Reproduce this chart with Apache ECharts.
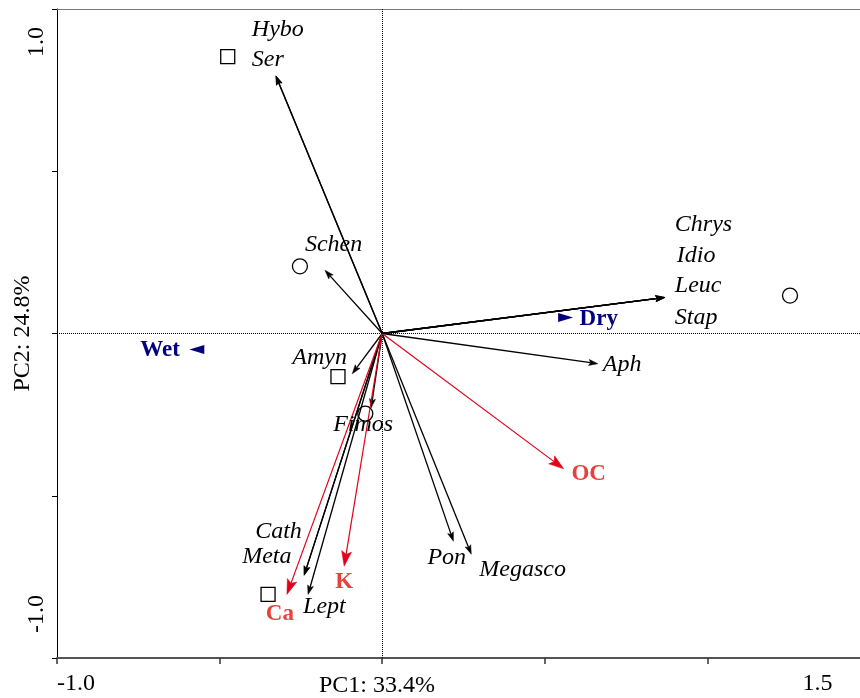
<!DOCTYPE html>
<html><head><meta charset="utf-8">
<script src="https://cdn.jsdelivr.net/npm/echarts@6/dist/echarts.min.js"></script>
<style>html,body{margin:0;padding:0;background:#fff}#c{width:860px;height:698px}</style>
</head><body><div id="c"></div>
<script>
// ---- data (PC1, PC2 scores) ----
const speciesNames = ['Hybo','Ser','Schen','Chrys','Idio','Leuc','Stap','Aph','Amyn','Fimos','Pon','Megasco','Cath','Meta','Lept'];
const speciesPC1 = [-0.327,-0.327,-0.176,0.869,0.869,0.869,0.869,0.663,-0.092,-0.034,0.219,0.274,-0.240,-0.240,-0.228];
const speciesPC2 = [0.794,0.794,0.195,0.111,0.111,0.111,0.111,-0.093,-0.124,-0.229,-0.640,-0.680,-0.745,-0.745,-0.804];
const envNames = ['OC','K','Ca'];
const envPC1 = [0.558,-0.117,-0.293];
const envPC2 = [-0.417,-0.717,-0.804];
const nominalNames = ['Dry','Wet'];
const nominalPC1 = [0.564,-0.570];
const nominalPC2 = [0.049,-0.049];
const squarePC1 = [-0.475,-0.136,-0.351];
const squarePC2 = [0.853,-0.133,-0.804];
const circlePC1 = [-0.253,-0.052,1.254];
const circlePC2 = [0.207,-0.247,0.117];
const xTickValues = [-1.0, 1.5];
const xTickLabels = ['-1.0','1.5'];
const yTickValues = [-1.0, 1.0];
const yTickLabels = ['-1.0','1.0'];
const xAxisTitle = 'PC1: 33.4%';
const yAxisTitle = 'PC2: 24.8%';

// ---- layout / style (pixel offsets of labels from their point) ----
const labelOffset = {Hybo:[-24,-46], Ser:[-24,-16], Schen:[-20,-26], Chrys:[10,-73], Idio:[12,-42], Leuc:[10,-12], Stap:[10,20],
  Aph:[5,1], Amyn:[-60,-16], Fimos:[-38,17], Pon:[-26,17], Megasco:[8,16], Cath:[-49,-44], Meta:[-62,-19], Lept:[-5,12],
  OC:[25,5], K:[0,16], Ca:[-7,20], Dry:[14,1], Wet:[-17,1]};
const FONT = "'Liberation Serif','Times New Roman',serif";
const RED_LINE = '#e2001a', RED_TEXT = '#e8413c', NAVY = '#000080';

function arrowRenderer(color, width, headLen, headHalf) {
  return function (params, api) {
    const p0 = api.coord([0, 0]);
    const p1 = api.coord([api.value(0), api.value(1)]);
    const dx = p1[0] - p0[0], dy = p1[1] - p0[1];
    const L = Math.hypot(dx, dy) || 1;
    const ux = dx / L, uy = dy / L;
    const bx = p1[0] - ux * headLen, by = p1[1] - uy * headLen;
    const nx = p1[0] - ux * headLen * 0.8, ny = p1[1] - uy * headLen * 0.8;
    return {type: 'group', children: [
      {type: 'line', shape: {x1: p0[0], y1: p0[1], x2: nx, y2: ny}, style: {stroke: color, lineWidth: width}},
      {type: 'polygon', shape: {points: [[p1[0], p1[1]], [bx - uy * headHalf, by + ux * headHalf], [nx, ny], [bx + uy * headHalf, by - ux * headHalf]]},
       style: {fill: color, stroke: color, lineWidth: 0.5}}
    ]};
  };
}

function labelItems(names, xs, ys, align) {
  return names.map((n, i) => ({name: n, value: [xs[i], ys[i]],
    label: {offset: labelOffset[n], align: align}}));
}

const speciesPairs = speciesNames.map((n, i) => [speciesPC1[i], speciesPC2[i]]);
const envPairs = envNames.map((n, i) => [envPC1[i], envPC2[i]]);
const solid = {opacity: 1};

const chart = echarts.init(document.getElementById('c'), null, {renderer: 'canvas'});
chart.setOption({
  animation: false,
  backgroundColor: '#fff',
  grid: {left: 57, top: 9, bottom: 40, right: -10, containLabel: false, outerBoundsMode: 'none'},
  xAxis: [{
    type: 'value', min: -1, max: 1.5, interval: 0.5,
    name: xAxisTitle, nameLocation: 'middle', nameGap: 16, nameMoveOverlap: false,
    nameTextStyle: {fontFamily: FONT, fontSize: 24, color: '#000', padding: [0, 173, 0, 0]},
    axisLine: {show: true, onZero: false, lineStyle: {color: '#555', width: 2}},
    axisTick: {show: true, length: 6, lineStyle: {color: '#333', width: 1.5}},
    splitLine: {show: false},
    axisLabel: {
      showMinLabel: true, showMaxLabel: true, margin: 14,
      fontFamily: FONT, fontSize: 24, color: '#000',
      formatter: function (v) {
        const i = xTickValues.findIndex(t => Math.abs(t - v) < 1e-6);
        return i < 0 ? '' : '{x' + i + '|' + xTickLabels[i] + '}';
      },
      rich: {
        x0: {fontFamily: FONT, fontSize: 24, color: '#000', padding: [0, 0, 0, 38]},
        x1: {fontFamily: FONT, fontSize: 24, color: '#000', padding: [0, 105, 0, 0]}
      }
    }
  }, {
    type: 'value', min: -1, max: 1.5, position: 'top',
    axisLine: {show: true, onZero: false, lineStyle: {color: '#777', width: 1}},
    axisTick: {show: false}, axisLabel: {show: false}, splitLine: {show: false}
  }],
  yAxis: {
    type: 'value', min: -1, max: 1, interval: 0.5,
    name: yAxisTitle, nameLocation: 'middle', nameGap: 22, nameMoveOverlap: false,
    nameTextStyle: {fontFamily: FONT, fontSize: 24, color: '#000'},
    axisLine: {show: true, onZero: false, lineStyle: {color: '#000', width: 1}},
    axisTick: {show: true, length: 5, lineStyle: {color: '#000', width: 1}},
    splitLine: {show: false},
    axisLabel: {
      showMinLabel: true, showMaxLabel: true, rotate: 90, margin: 8,
      fontFamily: FONT, fontSize: 24, color: '#000',
      formatter: function (v) {
        const i = yTickValues.findIndex(t => Math.abs(t - v) < 1e-6);
        return i < 0 ? '' : '{y' + i + '|' + yTickLabels[i] + '}';
      },
      rich: {
        y0: {fontFamily: FONT, fontSize: 24, color: '#000', padding: [0, 0, 0, 88]},
        y1: {fontFamily: FONT, fontSize: 24, color: '#000', padding: [0, 66, 0, 0]}
      }
    }
  },
  series: [
    {
      type: 'custom', name: 'species arrows', xAxisIndex: 0, data: speciesPairs, z: 3,
      renderItem: arrowRenderer('#000', 1.3, 9, 3), silent: true,
      markLine: {
        silent: true, symbol: ['none', 'none'], label: {show: false},
        lineStyle: {type: [1, 1], color: '#000', width: 1},
        data: [{xAxis: 0}, {yAxis: 0}]
      }
    },
    {
      type: 'custom', name: 'environment arrows', xAxisIndex: 0, data: envPairs, z: 3,
      renderItem: arrowRenderer(RED_LINE, 1.2, 15, 5), silent: true
    },
    {
      type: 'scatter', name: 'samples (square)', symbol: 'rect', symbolSize: 14, z: 4, silent: true,
      data: squarePC1.map((x, i) => [x, squarePC2[i]]),
      itemStyle: {color: 'rgba(255,255,255,0)', borderColor: '#000', borderWidth: 1.3, opacity: 1}
    },
    {
      type: 'scatter', name: 'samples (circle)', symbol: 'circle', symbolSize: 15, z: 4, silent: true,
      data: circlePC1.map((x, i) => [x, circlePC2[i]]),
      itemStyle: {color: 'rgba(255,255,255,0)', borderColor: '#000', borderWidth: 1.3, opacity: 1}
    },
    {
      type: 'scatter', name: 'nominal', symbol: 'triangle', symbolSize: [9, 15], z: 5, silent: true,
      data: nominalNames.map((n, i) => ({name: n, value: [nominalPC1[i], nominalPC2[i]],
        symbolRotate: i === 0 ? -90 : 90,
        label: {offset: labelOffset[n], align: i === 0 ? 'left' : 'right'}})),
      itemStyle: {color: NAVY, opacity: 1},
      label: {show: true, position: 'inside', verticalAlign: 'middle', formatter: '{b}', opacity: 1,
        fontFamily: FONT, fontSize: 23, fontWeight: 'bold', color: NAVY, textBorderWidth: 0}
    },
    {
      type: 'scatter', name: 'species labels', symbolSize: 0, z: 6, clip: false, silent: true,
      itemStyle: solid,
      data: labelItems(speciesNames, speciesPC1, speciesPC2, 'left'),
      label: {show: true, position: 'inside', verticalAlign: 'middle', formatter: '{b}', opacity: 1,
        fontFamily: FONT, fontSize: 24, fontStyle: 'italic', color: '#000', textBorderWidth: 0}
    },
    {
      type: 'scatter', name: 'environment labels', symbolSize: 0, z: 6, clip: false, silent: true,
      itemStyle: solid,
      data: labelItems(envNames, envPC1, envPC2, 'center'),
      label: {show: true, position: 'inside', verticalAlign: 'middle', formatter: '{b}', opacity: 1,
        fontFamily: FONT, fontSize: 23, fontWeight: 'bold', color: RED_TEXT, textBorderWidth: 0}
    }
  ]
});
</script>
</body></html>
